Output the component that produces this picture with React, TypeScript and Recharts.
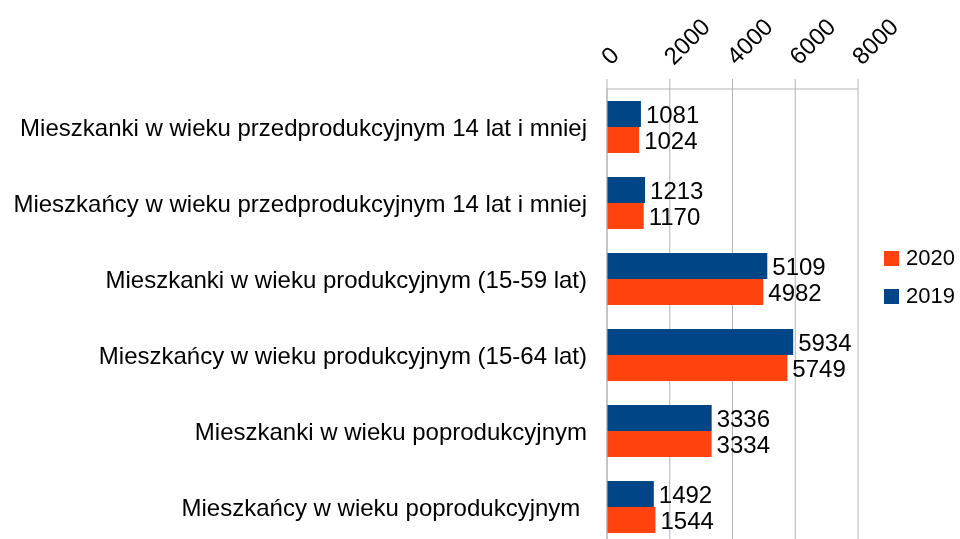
import React from "react";
import { BarChart, Bar, XAxis, YAxis, CartesianGrid, Legend, LabelList } from "recharts";

const categories = [
  "Mieszkanki w wieku przedprodukcyjnym 14 lat i mniej",
  "Mieszkańcy w wieku przedprodukcyjnym 14 lat i mniej",
  "Mieszkanki w wieku produkcyjnym (15-59 lat)",
  "Mieszkańcy w wieku produkcyjnym (15-64 lat)",
  "Mieszkanki w wieku poprodukcyjnym",
  "Mieszkańcy w wieku poprodukcyjnym ",
];
const values2019 = [1081, 1213, 5109, 5934, 3336, 1492];
const values2020 = [1024, 1170, 4982, 5749, 3334, 1544];
const xTicks = [0, 2000, 4000, 6000, 8000];
const boundaryTicks = [0, 1, 2, 3, 4, 5, 6];

const FONT = "'Liberation Sans', Arial, sans-serif";
const GRID = "#b3b3b3";
const BLUE = "#004586";
const ORANGE = "#ff420e";

const series = [
  { key: "y2019", name: "2019", color: BLUE },
  { key: "y2020", name: "2020", color: ORANGE },
];
const legendOrder = ["y2020", "y2019"];

const data = categories.map((name, i) => ({
  name,
  y2019: values2019[i],
  y2020: values2020[i],
}));

const XTick = (props: any) => {
  const { x, y, payload } = props;
  const px = x + 4;
  const py = y;
  return (
    <text
      x={px}
      y={py}
      transform={`rotate(-45 ${px} ${py})`}
      textAnchor="start"
      fontFamily={FONT}
      fontSize={24}
      fill="#000"
    >
      {payload.value}
    </text>
  );
};

const YTick = (props: any) => {
  const { x, y, payload } = props;
  return (
    <text
      x={x}
      y={y}
      dy="0.36em"
      textAnchor="end"
      fontFamily={FONT}
      fontSize={24}
      fill="#000"
      style={{ whiteSpace: "pre" }}
    >
      {payload.value}
    </text>
  );
};

const LegendContent = () => (
  <div style={{ fontFamily: FONT, fontSize: 22, color: "#000", whiteSpace: "nowrap" }}>
    {legendOrder.map((k) => {
      const s = series.find((v) => v.key === k)!;
      return (
        <div key={k} style={{ display: "flex", alignItems: "center", height: 38 }}>
          <span style={{ display: "inline-block", flex: "0 0 15px", width: 15, height: 15, background: s.color, marginRight: 7 }} />
          <span>{s.name}</span>
        </div>
      );
    })}
  </div>
);

export default function App() {
  return (
    <div style={{ position: "fixed", left: 8, top: 8, width: 952, height: 531, overflow: "hidden" }}>
      <BarChart
        width={952}
        height={560}
        data={data}
        layout="vertical"
        margin={{ top: 0, right: 102, bottom: 23, left: 0 }}
        barCategoryGap={12}
        barGap={0}
      >
        <CartesianGrid horizontal={false} stroke={GRID} />
        <XAxis
          type="number"
          orientation="top"
          domain={[0, 8000]}
          ticks={xTicks}
          height={81}
          tickSize={10}
          tickMargin={13}
          axisLine={{ stroke: GRID }}
          tickLine={{ stroke: GRID }}
          tick={<XTick />}
          interval={0}
        />
        <YAxis
          yAxisId="bounds"
          type="number"
          domain={[0, 6]}
          ticks={boundaryTicks}
          width={1}
          tick={false}
          axisLine={false}
          tickLine={{ stroke: GRID }}
          tickSize={9}
          allowDataOverflow
        />
        <YAxis
          type="category"
          dataKey="name"
          width={598}
          tickLine={false}
          tickSize={0}
          tickMargin={20}
          axisLine={{ stroke: GRID }}
          tick={<YTick />}
          interval={0}
        />
        <Legend
          layout="vertical"
          align="center"
          verticalAlign="middle"
          content={<LegendContent />}
          wrapperStyle={{ left: 876, top: 231, width: 72 }}
        />
        {series.map((s) => (
          <Bar key={s.key} dataKey={s.key} name={s.name} fill={s.color} isAnimationActive={false}>
            <LabelList
              dataKey={s.key}
              position="right"
              offset={5}
              fill="#000"
              fontFamily={FONT}
              fontSize={24}
            />
          </Bar>
        ))}
      </BarChart>
    </div>
  );
}
